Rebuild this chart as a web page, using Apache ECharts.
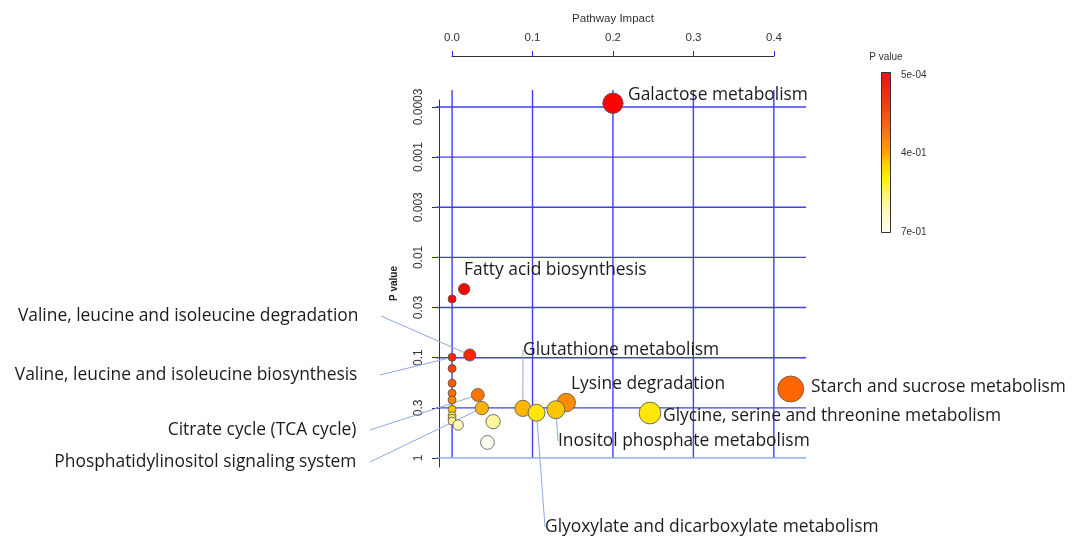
<!DOCTYPE html>
<html><head><meta charset="utf-8">
<script src="https://cdn.jsdelivr.net/npm/echarts@6/dist/echarts.min.js"></script>
<style>html,body{margin:0;padding:0;background:#fff}#c{width:1080px;height:539px}</style>
</head><body><div id="c"></div>
<script>
// ---------- data ----------
const pathwayNames = [
  'Galactose metabolism', 'Fatty acid biosynthesis', '',
  'Valine, leucine and isoleucine degradation', 'Valine, leucine and isoleucine biosynthesis',
  '', '', 'Starch and sucrose metabolism', '', 'Citrate cycle (TCA cycle)', '',
  'Lysine degradation', 'Phosphatidylinositol signaling system', 'Glutathione metabolism', '',
  'Inositol phosphate metabolism', 'Glyoxylate and dicarboxylate metabolism',
  'Glycine, serine and threonine metabolism', '', '', '', '', '', ''
];
const impactValues = [
  0.200, 0.015, 0.000, 0.022, 0.000, 0.000, 0.000, 0.421, 0.000, 0.032, 0.000,
  0.142, 0.037, 0.088, 0.000, 0.129, 0.105, 0.246, 0.000, 0.000, 0.000, 0.051, 0.0075, 0.044
];
const pValues = [
  0.00029, 0.0207, 0.026, 0.094, 0.099, 0.128, 0.18, 0.205, 0.226, 0.235, 0.264,
  0.28, 0.318, 0.32, 0.327, 0.33, 0.354, 0.356, 0.379, 0.402, 0.428, 0.434, 0.469, 0.70
];
const xTicks = [0, 0.1, 0.2, 0.3, 0.4];
const xTickLabels = ['0.0', '0.1', '0.2', '0.3', '0.4'];
const yTicks = [0.00031623, 0.001, 0.0031623, 0.01, 0.031623, 0.1, 0.31623, 1];
const yTickLabels = ['0.0003', '0.001', '0.003', '0.01', '0.03', '0.1', '0.3', '1'];
const legendLabels = ['5e-04', '4e-01', '7e-01'];

// ---------- styles / layout ----------
const FONT = 'Liberation Sans';
const LABEL_FONT = 'Open Sans';
const Y_ONE = 458, PX_PER_DECADE = 100.3;
const pAtY = y => Math.pow(10, (y - Y_ONE) / PX_PER_DECADE);
const X_MIN = -0.02, X_MAX = 0.44, Y_TOP_P = pAtY(90);
const gridBlue = '#4040f0';
const bottomBlue = '#8aa3e8';
const guideBlue = '#8fa9e2';
// colours along p in [0, 0.7] (evenly spaced stops)
const pColorStops = ['#ff0000', '#ff0800', '#ff2a00', '#ff4800', '#ff6400', '#ff7c00', '#ff9800',
  '#ffe400', '#fff26a', '#fff6b4', '#fff8c8', '#fffad4', '#fffbdc', '#fffde6', '#fffef0'];
const labelPlacement = {
  'Galactose metabolism': {x: 628, y: 95, align: 'left'},
  'Fatty acid biosynthesis': {x: 464, y: 270, align: 'left'},
  'Valine, leucine and isoleucine degradation': {x: 381, y: 316, align: 'right', gap: 5, line: true},
  'Valine, leucine and isoleucine biosynthesis': {x: 380, y: 375, align: 'right', gap: 5, line: true},
  'Citrate cycle (TCA cycle)': {x: 370, y: 430, align: 'right', gap: 3, line: true},
  'Phosphatidylinositol signaling system': {x: 370, y: 462, align: 'right', gap: 3, line: true},
  'Glutathione metabolism': {x: 523, y: 350, align: 'left', line: true},
  'Lysine degradation': {x: 571, y: 384, align: 'left'},
  'Starch and sucrose metabolism': {x: 811, y: 387, align: 'left'},
  'Glycine, serine and threonine metabolism': {x: 663, y: 416, align: 'left'},
  'Inositol phosphate metabolism': {x: 558, y: 441, align: 'left', line: true},
  'Glyoxylate and dicarboxylate metabolism': {x: 545, y: 527, align: 'left', line: true}
};

const scatterData = pathwayNames.map((n, i) => {
  const pl = labelPlacement[n];
  return {
    name: n,
    value: [impactValues[i], pValues[i]],
    label: {show: !!n},
    labelLine: {show: !!(pl && pl.line)}
  };
});

// grid lines drawn as plain line series through the same axes
const gridSeries = xTicks.map(v => ({
  type: 'line', xAxisIndex: 0, yAxisIndex: 0, z: 1, silent: true, symbol: 'none',
  data: [[v, Y_TOP_P], [v, 1]], lineStyle: {color: gridBlue, width: 1.4}
})).concat(yTicks.map(v => ({
  type: 'line', xAxisIndex: 0, yAxisIndex: 0, z: 1, silent: true, symbol: 'none',
  data: [[X_MIN, v], [X_MAX, v]], lineStyle: {color: v === 1 ? bottomBlue : gridBlue, width: 1.4}
})));

function nearestIdx(arr, v, log) {
  let best = 0, bd = Infinity;
  arr.forEach((a, i) => {
    const d = log ? Math.abs(Math.log(a) - Math.log(v)) : Math.abs(a - v);
    if (d < bd) { bd = d; best = i; }
  });
  return best;
}

const chart = echarts.init(document.getElementById('c'), null, {renderer: 'canvas'});
chart.setOption({
  animation: false,
  backgroundColor: '#ffffff',
  textStyle: {fontFamily: FONT},
  grid: [
    {left: 436, width: 370, top: 90, height: Y_ONE - 90, containLabel: false, outerBoundsMode: 'none'},
    {left: 452, width: 322, top: 56, height: 400, containLabel: false, outerBoundsMode: 'none'},
    {left: 439, width: 300, top: 100, height: 367, containLabel: false, outerBoundsMode: 'none'}
  ],
  xAxis: [
    {gridIndex: 0, type: 'value', min: X_MIN, max: X_MAX, show: false, splitLine: {show: false}},
    {gridIndex: 1, type: 'value', position: 'top', min: 0, max: 0.4, interval: 0.1,
      axisLine: {show: true, onZero: false, lineStyle: {color: '#333', width: 1}},
      axisTick: {show: true, length: 5, lineStyle: {color: '#2a2aee', width: 1}},
      axisLabel: {margin: 12, fontSize: 11.5, color: '#333', fontFamily: FONT,
        formatter: v => xTickLabels[nearestIdx(xTicks, v, false)]},
      splitLine: {show: false},
      name: 'Pathway Impact', nameLocation: 'middle', nameGap: 31,
      nameTextStyle: {fontSize: 11.5, color: '#333', fontFamily: FONT}},
    {gridIndex: 2, type: 'value', show: false, min: 0, max: 1}
  ],
  yAxis: [
    {gridIndex: 0, type: 'log', inverse: true, min: Y_TOP_P, max: 1, show: false, splitLine: {show: false}},
    {gridIndex: 1, type: 'value', show: false, min: 0, max: 1},
    {gridIndex: 2, type: 'log', inverse: true, position: 'left', min: pAtY(100), max: pAtY(467),
      axisLine: {show: true, onZero: false, lineStyle: {color: '#333', width: 1}},
      axisTick: {show: true, length: 7, customValues: yTicks, lineStyle: {color: '#333'}},
      axisLabel: {show: true, customValues: yTicks, rotate: 90, margin: 14, fontSize: 12, color: '#333',
        fontFamily: FONT, formatter: v => yTickLabels[nearestIdx(yTicks, v, true)]},
      splitLine: {show: false}, minorTick: {show: false},
      name: 'P value', nameLocation: 'middle', nameGap: 40, nameRotate: 90,
      nameTextStyle: {fontSize: 10, fontWeight: 'bold', color: '#222', fontFamily: FONT}}
  ],
  visualMap: {
    type: 'continuous', show: false, seriesIndex: 0, dimension: 1,
    min: 0, max: 0.7, inRange: {color: pColorStops}
  },
  series: [
    {
      type: 'scatter', xAxisIndex: 0, yAxisIndex: 0, z: 3,
      data: scatterData,
      symbol: 'circle',
      symbolSize: val => 2 * (4 + 9 * Math.sqrt(val[0] / 0.42)),
      itemStyle: {borderColor: '#505050', borderWidth: 0.8, opacity: 1},
      emphasis: {disabled: true},
      label: {show: true, fontFamily: LABEL_FONT, fontSize: 17.4, color: '#1c1c1c',
        formatter: p => {
          const pl = labelPlacement[p.name];
          return p.name + (pl && pl.gap ? '\u00a0'.repeat(pl.gap) : '');
        }},
      labelLine: {show: false, length2: 0, lineStyle: {color: guideBlue, width: 1}},
      labelLayout: params => {
        const pl = labelPlacement[pathwayNames[params.dataIndex]];
        if (!pl) return {};
        return {x: pl.x, y: pl.y, align: pl.align, verticalAlign: 'middle'};
      }
    }
  ].concat(gridSeries),
  graphic: [
    {type: 'rect', x: 881.5, y: 72.5, shape: {width: 9, height: 160},
      style: {
        fill: {type: 'linear', x: 0, y: 0, x2: 0, y2: 1, colorStops: [
          {offset: 0, color: '#ee1111'}, {offset: 0.2, color: '#f23c14'},
          {offset: 0.38, color: '#f8761a'}, {offset: 0.49, color: '#ffa000'},
          {offset: 0.58, color: '#ffd400'}, {offset: 0.66, color: '#fff000'},
          {offset: 0.77, color: '#fff47e'}, {offset: 0.88, color: '#fff8c6'},
          {offset: 1, color: '#fffdf0'}]},
        stroke: '#333', lineWidth: 1}},
    {type: 'text', x: 886, y: 57, style: {text: 'P value', fontSize: 10, fontFamily: FONT, fill: '#333', align: 'center', verticalAlign: 'middle'}},
    {type: 'text', x: 901, y: 75, style: {text: legendLabels[0], fontSize: 10, fontFamily: FONT, fill: '#333', align: 'left', verticalAlign: 'middle'}},
    {type: 'text', x: 901, y: 153, style: {text: legendLabels[1], fontSize: 10, fontFamily: FONT, fill: '#333', align: 'left', verticalAlign: 'middle'}},
    {type: 'text', x: 901, y: 232, style: {text: legendLabels[2], fontSize: 10, fontFamily: FONT, fill: '#333', align: 'left', verticalAlign: 'middle'}}
  ]
});
</script>
</body></html>
